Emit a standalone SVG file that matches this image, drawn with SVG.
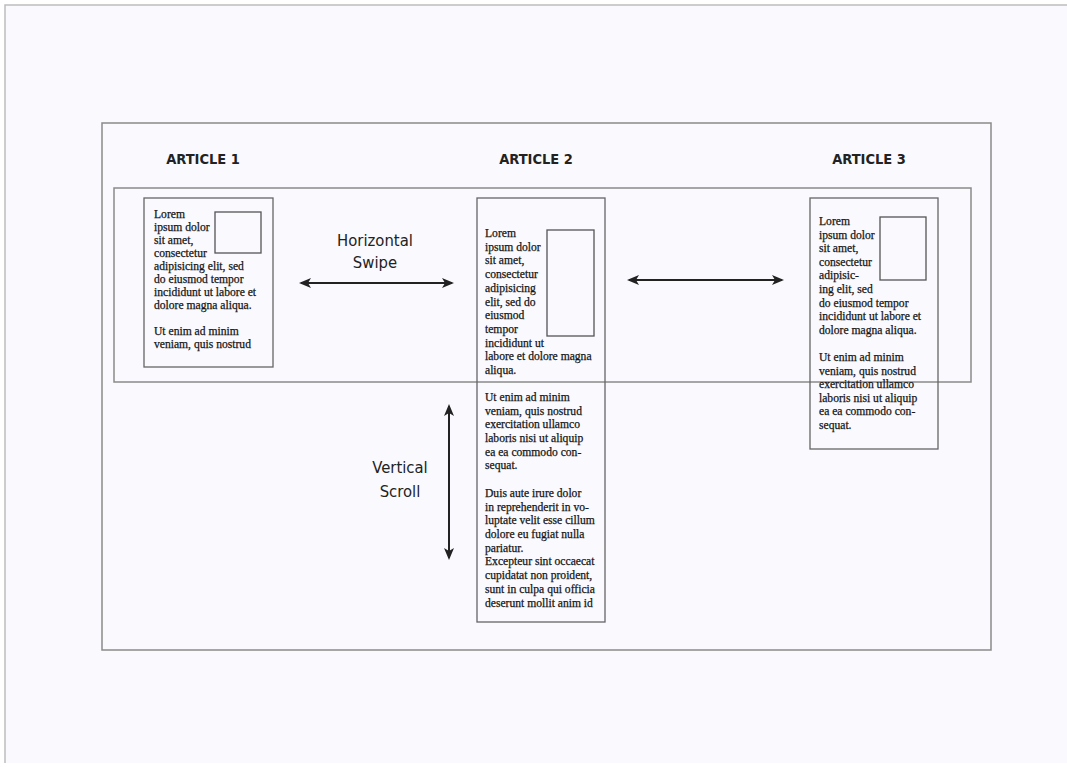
<svg xmlns="http://www.w3.org/2000/svg" width="1067" height="767" viewBox="0 0 1067 767">
<defs>
<style>
.frame{fill:none;stroke:#8a8a8a;stroke-width:1.5}
.card{fill:none;stroke:#666;stroke-width:1.3}
.img{fill:none;stroke:#555;stroke-width:1.3}
.body{font-family:"Liberation Serif","Times New Roman",serif;font-size:11.6px;fill:#151515;stroke:#151515;stroke-width:0.25}
.head{font-family:"DejaVu Sans Condensed","DejaVu Sans",sans-serif;font-weight:bold;font-size:14.5px;fill:#222;text-anchor:middle}
.lbl{font-family:"DejaVu Sans Condensed","DejaVu Sans",sans-serif;font-size:16.5px;fill:#222;text-anchor:middle}
.arr{stroke:#222;stroke-width:2;fill:none;marker-start:url(#ah);marker-end:url(#ah)}
</style>
<marker id="ah" viewBox="0 0 12 10" refX="10" refY="5" markerWidth="12" markerHeight="10" markerUnits="userSpaceOnUse" orient="auto-start-reverse">
<path d="M0,0 L12,5 L0,10 L3,5 Z" fill="#222"/>
</marker>
</defs>
<rect x="0" y="0" width="1067" height="767" fill="#ffffff"/>
<rect x="5" y="5" width="1062" height="758" fill="#f9f9fe"/>
<path d="M5,763 V5 H1067" fill="none" stroke="#bdbdbd" stroke-width="1.5"/>
<rect class="frame" x="102" y="123" width="889" height="527"/>
<rect class="frame" x="114" y="188" width="857" height="194"/>
<g id="article1">
<text class="head" x="203" y="164">ARTICLE 1</text>
<rect class="card" x="144" y="198" width="129" height="169"/>
<rect class="img" x="215" y="212" width="46" height="41"/>
<text class="body" x="154" y="218">
<tspan x="154">Lorem</tspan>
<tspan x="154" dy="13">ipsum dolor</tspan>
<tspan x="154" dy="13">sit amet,</tspan>
<tspan x="154" dy="13">consectetur</tspan>
<tspan x="154" dy="13">adipisicing elit, sed</tspan>
<tspan x="154" dy="13">do eiusmod tempor</tspan>
<tspan x="154" dy="13">incididunt ut labore et</tspan>
<tspan x="154" dy="13">dolore magna aliqua.</tspan>
<tspan x="154" dy="26">Ut enim ad minim</tspan>
<tspan x="154" dy="13">veniam, quis nostrud</tspan>
</text>
</g>
<g id="article2">
<text class="head" x="536" y="164">ARTICLE 2</text>
<rect class="card" x="477" y="198" width="128" height="424"/>
<rect class="img" x="547" y="230" width="47" height="106"/>
<text class="body" x="485" y="237">
<tspan x="485">Lorem</tspan>
<tspan x="485" dy="13.7">ipsum dolor</tspan>
<tspan x="485" dy="13.7">sit amet,</tspan>
<tspan x="485" dy="13.7">consectetur</tspan>
<tspan x="485" dy="13.7">adipisicing</tspan>
<tspan x="485" dy="13.7">elit, sed do</tspan>
<tspan x="485" dy="13.7">eiusmod</tspan>
<tspan x="485" dy="13.7">tempor</tspan>
<tspan x="485" dy="13.7">incididunt ut</tspan>
<tspan x="485" dy="13.7">labore et dolore magna</tspan>
<tspan x="485" dy="13.7">aliqua.</tspan>
<tspan x="485" dy="27">Ut enim ad minim</tspan>
<tspan x="485" dy="13.7">veniam, quis nostrud</tspan>
<tspan x="485" dy="13.7">exercitation ullamco</tspan>
<tspan x="485" dy="13.7">laboris nisi ut aliquip</tspan>
<tspan x="485" dy="13.7">ea ea commodo con-</tspan>
<tspan x="485" dy="13.7">sequat.</tspan>
<tspan x="485" dy="27.4">Duis aute irure dolor</tspan>
<tspan x="485" dy="13.7">in reprehenderit in vo-</tspan>
<tspan x="485" dy="13.7">luptate velit esse cillum</tspan>
<tspan x="485" dy="13.7">dolore eu fugiat nulla</tspan>
<tspan x="485" dy="13.7">pariatur.</tspan>
<tspan x="485" dy="13.7">Excepteur sint occaecat</tspan>
<tspan x="485" dy="13.7">cupidatat non proident,</tspan>
<tspan x="485" dy="13.7">sunt in culpa qui officia</tspan>
<tspan x="485" dy="13.7">deserunt mollit anim id</tspan>
</text>
</g>
<g id="article3">
<text class="head" x="869" y="164">ARTICLE 3</text>
<rect class="card" x="810" y="198" width="128" height="251"/>
<rect class="img" x="880" y="217" width="46" height="63"/>
<text class="body" x="819" y="225">
<tspan x="819">Lorem</tspan>
<tspan x="819" dy="13.6">ipsum dolor</tspan>
<tspan x="819" dy="13.6">sit amet,</tspan>
<tspan x="819" dy="13.6">consectetur</tspan>
<tspan x="819" dy="13.6">adipisic-</tspan>
<tspan x="819" dy="13.6">ing elit, sed</tspan>
<tspan x="819" dy="13.6">do eiusmod tempor</tspan>
<tspan x="819" dy="13.6">incididunt ut labore et</tspan>
<tspan x="819" dy="13.6">dolore magna aliqua.</tspan>
<tspan x="819" dy="27.2">Ut enim ad minim</tspan>
<tspan x="819" dy="13.6">veniam, quis nostrud</tspan>
<tspan x="819" dy="13.6">exercitation ullamco</tspan>
<tspan x="819" dy="13.6">laboris nisi ut aliquip</tspan>
<tspan x="819" dy="13.6">ea ea commodo con-</tspan>
<tspan x="819" dy="13.6">sequat.</tspan>
</text>
</g>
<g id="labels">
<text class="lbl" x="375" y="246">Horizontal</text>
<text class="lbl" x="375" y="268">Swipe</text>
<text class="lbl" x="400" y="473">Vertical</text>
<text class="lbl" x="400" y="497">Scroll</text>
</g>
<g id="connectors">
<line class="arr" x1="301" y1="283" x2="452" y2="283"/>
<line class="arr" x1="629" y1="280" x2="782" y2="280"/>
<line class="arr" x1="449" y1="406" x2="449" y2="558"/>
</g>
</svg>
